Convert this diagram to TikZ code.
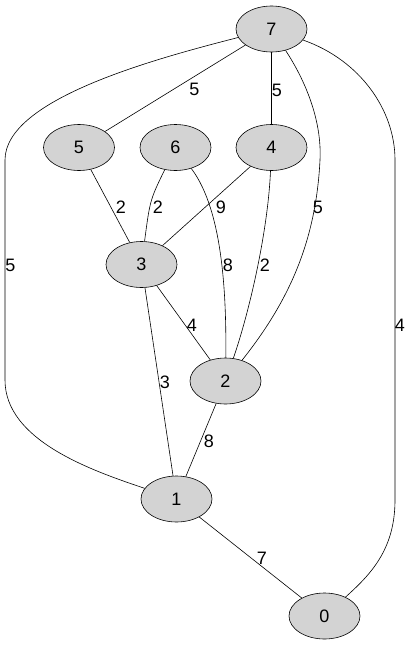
\documentclass[tikz,border=0pt]{standalone}
\usepackage{fontspec}
\setmainfont{Liberation Sans}
\usetikzlibrary{shapes.geometric}
\definecolor{nodegray}{HTML}{D3D3D3}
\begin{document}
\begin{tikzpicture}[x=1pt,y=-1pt,
  vnode/.style={ellipse,draw=black,fill=nodegray,line width=0.6pt,minimum width=71pt,minimum height=46pt,inner sep=0pt,font=\fontsize{18}{20}\selectfont},
  elabel/.style={inner sep=0pt,font=\fontsize{18}{20}\selectfont},
  edge/.style={draw=black,line width=0.6pt}]
\useasboundingbox (0,0) rectangle (411,645);
\node[vnode] (n7) at (271.5,29) {7};
\node[vnode] (n5) at (79,147.5) {5};
\node[vnode] (n6) at (175.5,147.5) {6};
\node[vnode] (n4) at (271.5,147.5) {4};
\node[vnode] (n3) at (141.5,264.5) {3};
\node[vnode] (n2) at (225.5,381) {2};
\node[vnode] (n1) at (176.5,499) {1};
\node[vnode] (n0) at (324.5,616) {0};
% edges
\draw[edge] (n7) -- (n5);
\draw[edge] (n7) -- (n4);
\draw[edge] (n7) .. controls (305,80) and (322,120) .. (320,160) .. controls (316,240) and (290,300) .. (n2);
\draw[edge] (n7) .. controls (150,60) and (5,100) .. (5,160) -- (5,380) .. controls (5,440) and (90,470) .. (n1);
\draw[edge] (n7) .. controls (360,60) and (395,110) .. (395,160) -- (395,500) .. controls (395,550) and (370,575) .. (n0);
\draw[edge] (n5) -- (n3);
\draw[edge] (n6) .. controls (150,200) .. (n3);
\draw[edge] (n4) -- (n3);
\draw[edge] (n6) .. controls (215,200) and (227,260) .. (n2);
\draw[edge] (n4) .. controls (268,230) and (250,310) .. (n2);
\draw[edge] (n3) -- (n2);
\draw[edge] (n3) -- (n1);
\draw[edge] (n2) -- (n1);
\draw[edge] (n1) -- (n0);
% labels
\node[elabel] (l75) at (194.5,89.5) {5};
\node[elabel] (l74) at (277,90) {5};
\node[elabel] (l72) at (318,207) {5};
\node[elabel] (l71) at (10.5,265.5) {5};
\node[elabel] (l70) at (400,325) {4};
\node[elabel] (l53) at (121,207) {2};
\node[elabel] (l63) at (158,207) {2};
\node[elabel] (l43) at (221,207) {9};
\node[elabel] (l62) at (228,265.5) {8};
\node[elabel] (l42) at (265,265.5) {2};
\node[elabel] (l32) at (192,325) {4};
\node[elabel] (l31) at (165,382) {3};
\node[elabel] (l21) at (209,441.5) {8};
\node[elabel] (l10) at (262,558.5) {7};
\end{tikzpicture}
\end{document}
